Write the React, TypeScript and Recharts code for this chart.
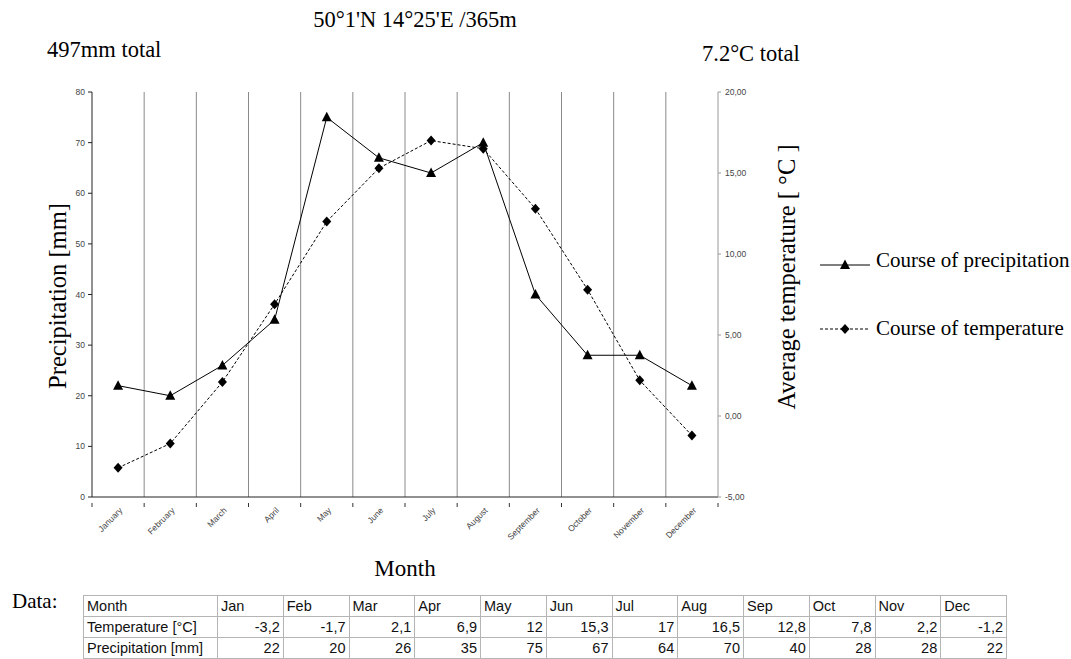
import React from "react";
import { ComposedChart, Line, XAxis, YAxis, CartesianGrid } from "recharts";

const monthsFull = ["January","February","March","April","May","June","July","August","September","October","November","December"];
const monthsShort = ["Jan","Feb","Mar","Apr","May","Jun","Jul","Aug","Sep","Oct","Nov","Dec"];
const precipitation = [22,20,26,35,75,67,64,70,40,28,28,22];
const temperature = [-3.2,-1.7,2.1,6.9,12,15.3,17,16.5,12.8,7.8,2.2,-1.2];
const leftTicks = [0,10,20,30,40,50,60,70,80];
const rightTicks = [-5,0,5,10,15,20];

const data = monthsFull.map((m, i) => ({ month: m, precip: precipitation[i], temp: temperature[i] }));

const SERIF = "'Liberation Serif', 'Times New Roman', serif";
const SANS = "'Liberation Sans', Arial, sans-serif";

const fmtComma = (v: number) => v.toFixed(2).replace(".", ",");

const MonthTick = (props: any) => {
  const { x, y, payload, index } = props;
  const half = payload && payload.offset ? payload.offset : 26.08;
  return (
    <g>
      <line x1={x - half} x2={x - half} y1={y - 2} y2={y + 2} stroke="#333" />
      {index === 11 ? <line x1={x + half} x2={x + half} y1={y - 2} y2={y + 2} stroke="#333" /> : null}
      <g transform={`translate(${x + 5},${y + 6})`}>
        <text transform="rotate(-45)" textAnchor="end" fontSize={8.5} fill="#444" fontFamily={SANS}>
          {payload.value}
        </text>
      </g>
    </g>
  );
};

const Triangle = (props: any) => {
  const { cx, cy } = props;
  if (cx == null || cy == null) return null;
  return <path d={`M${cx},${cy - 5.5} L${cx + 5},${cy + 4} L${cx - 5},${cy + 4} Z`} fill="#000" />;
};

const Diamond = (props: any) => {
  const { cx, cy } = props;
  if (cx == null || cy == null) return null;
  return <path d={`M${cx},${cy - 5} L${cx + 4.5},${cy} L${cx},${cy + 5} L${cx - 4.5},${cy} Z`} fill="#000" />;
};

const abs = (extra: React.CSSProperties): React.CSSProperties => ({
  position: "absolute",
  whiteSpace: "nowrap",
  lineHeight: 1,
  ...extra,
});

export default function App() {
  const cellBase: React.CSSProperties = {
    border: "1px solid #b5b5b5",
    padding: "0 3px",
    height: 20,
    fontFamily: SANS,
    fontSize: 14.5,
    color: "#111",
    whiteSpace: "nowrap",
  };
  return (
    <div style={{ position: "absolute", left: 0, top: 0, width: 1071, height: 659, background: "#fff", overflow: "hidden" }}>
      <div style={{ position: "absolute", left: 0, top: 0 }}>
        <ComposedChart
          width={1071}
          height={590}
          data={data}
          margin={{ top: 92, left: 0, right: 293, bottom: 33 }}
        >
          <CartesianGrid
            horizontal={false}
            stroke="#8a8a8a"
            verticalCoordinatesGenerator={({ offset }: any) =>
              [1,2,3,4,5,6,7,8,9,10,11].map((i) => offset.left + (i * offset.width) / 12)
            }
          />
          <XAxis
            dataKey="month"
            type="category"
            scale="band"
            height={60}
            interval={0}
            tickLine={false}
            axisLine={{ stroke: "#222" }}
            tick={<MonthTick />}
          />
          <YAxis
            yAxisId="left"
            width={92}
            domain={[0, 80]}
            ticks={leftTicks}
            interval={0}
            tickSize={4}
            tickMargin={3}
            tick={{ fontSize: 8.5, fill: "#444", fontFamily: SANS }}
            axisLine={{ stroke: "#222" }}
            tickLine={{ stroke: "#222" }}
          />
          <YAxis
            yAxisId="right"
            orientation="right"
            width={60}
            domain={[-5, 20]}
            ticks={rightTicks}
            interval={0}
            tickSize={3}
            tickMargin={4}
            tickFormatter={fmtComma}
            tick={{ fontSize: 8.5, fill: "#444", fontFamily: SANS, textAnchor: "start" }}
            axisLine={{ stroke: "#999" }}
            tickLine={{ stroke: "#999" }}
          />
          <Line
            yAxisId="left"
            dataKey="precip"
            stroke="#000"
            strokeWidth={1}
            dot={<Triangle />}
            activeDot={false}
            isAnimationActive={false}
          />
          <Line
            yAxisId="right"
            dataKey="temp"
            stroke="#000"
            strokeWidth={1}
            strokeDasharray="3 2"
            dot={<Diamond />}
            activeDot={false}
            isAnimationActive={false}
          />
        </ComposedChart>
      </div>

      <div style={abs({ left: 415, top: 9, transform: "translateX(-50%)", fontFamily: SERIF, fontSize: 22.5 })}>
        50°1'N 14°25'E /365m
      </div>
      <div style={abs({ left: 47, top: 39, fontFamily: SERIF, fontSize: 22.5 })}>497mm total</div>
      <div style={abs({ left: 702, top: 43, fontFamily: SERIF, fontSize: 22.5 })}>7.2°C total</div>

      <div style={abs({ left: 58, top: 296, transform: "translate(-50%,-50%) rotate(-90deg)", fontFamily: SERIF, fontSize: 24.5 })}>
        Precipitation [mm]
      </div>
      <div style={abs({ left: 787, top: 277, transform: "translate(-50%,-50%) rotate(-90deg)", fontFamily: SERIF, fontSize: 24.5 })}>
        Average temperature [ °C ]
      </div>
      <div style={abs({ left: 405, top: 557, transform: "translateX(-50%)", fontFamily: SERIF, fontSize: 23 })}>Month</div>

      <svg style={{ position: "absolute", left: 815, top: 250 }} width={60} height={90}>
        <line x1={5} x2={55} y1={15} y2={15} stroke="#000" />
        <path d="M30,9.5 L35,19 L25,19 Z" fill="#000" />
        <line x1={5} x2={55} y1={79} y2={79} stroke="#000" strokeDasharray="3 2" />
        <path d="M30,74 L34.5,79 L30,84 L25.5,79 Z" fill="#000" />
      </svg>
      <div style={abs({ left: 876, top: 250, fontFamily: SERIF, fontSize: 21 })}>Course of precipitation</div>
      <div style={abs({ left: 876, top: 318, fontFamily: SERIF, fontSize: 21 })}>Course of temperature</div>

      <div style={abs({ left: 12, top: 591, fontFamily: SERIF, fontSize: 21 })}>Data:</div>
      <table
        style={{
          position: "absolute",
          left: 83,
          top: 595,
          width: 924,
          borderCollapse: "collapse",
          border: "1.5px solid #333",
          tableLayout: "fixed",
        }}
      >
        <colgroup>
          <col style={{ width: 134 }} />
          {monthsShort.map((m) => (
            <col key={m} />
          ))}
        </colgroup>
        <tbody>
          <tr>
            <td style={{ ...cellBase, textAlign: "left" }}>Month</td>
            {monthsShort.map((m) => (
              <td key={m} style={{ ...cellBase, textAlign: "left" }}>{m}</td>
            ))}
          </tr>
          <tr>
            <td style={{ ...cellBase, textAlign: "left" }}>Temperature [°C]</td>
            {temperature.map((t, i) => (
              <td key={i} style={{ ...cellBase, textAlign: "right" }}>{String(t).replace(".", ",")}</td>
            ))}
          </tr>
          <tr>
            <td style={{ ...cellBase, textAlign: "left" }}>Precipitation [mm]</td>
            {precipitation.map((p, i) => (
              <td key={i} style={{ ...cellBase, textAlign: "right" }}>{p}</td>
            ))}
          </tr>
        </tbody>
      </table>
    </div>
  );
}
